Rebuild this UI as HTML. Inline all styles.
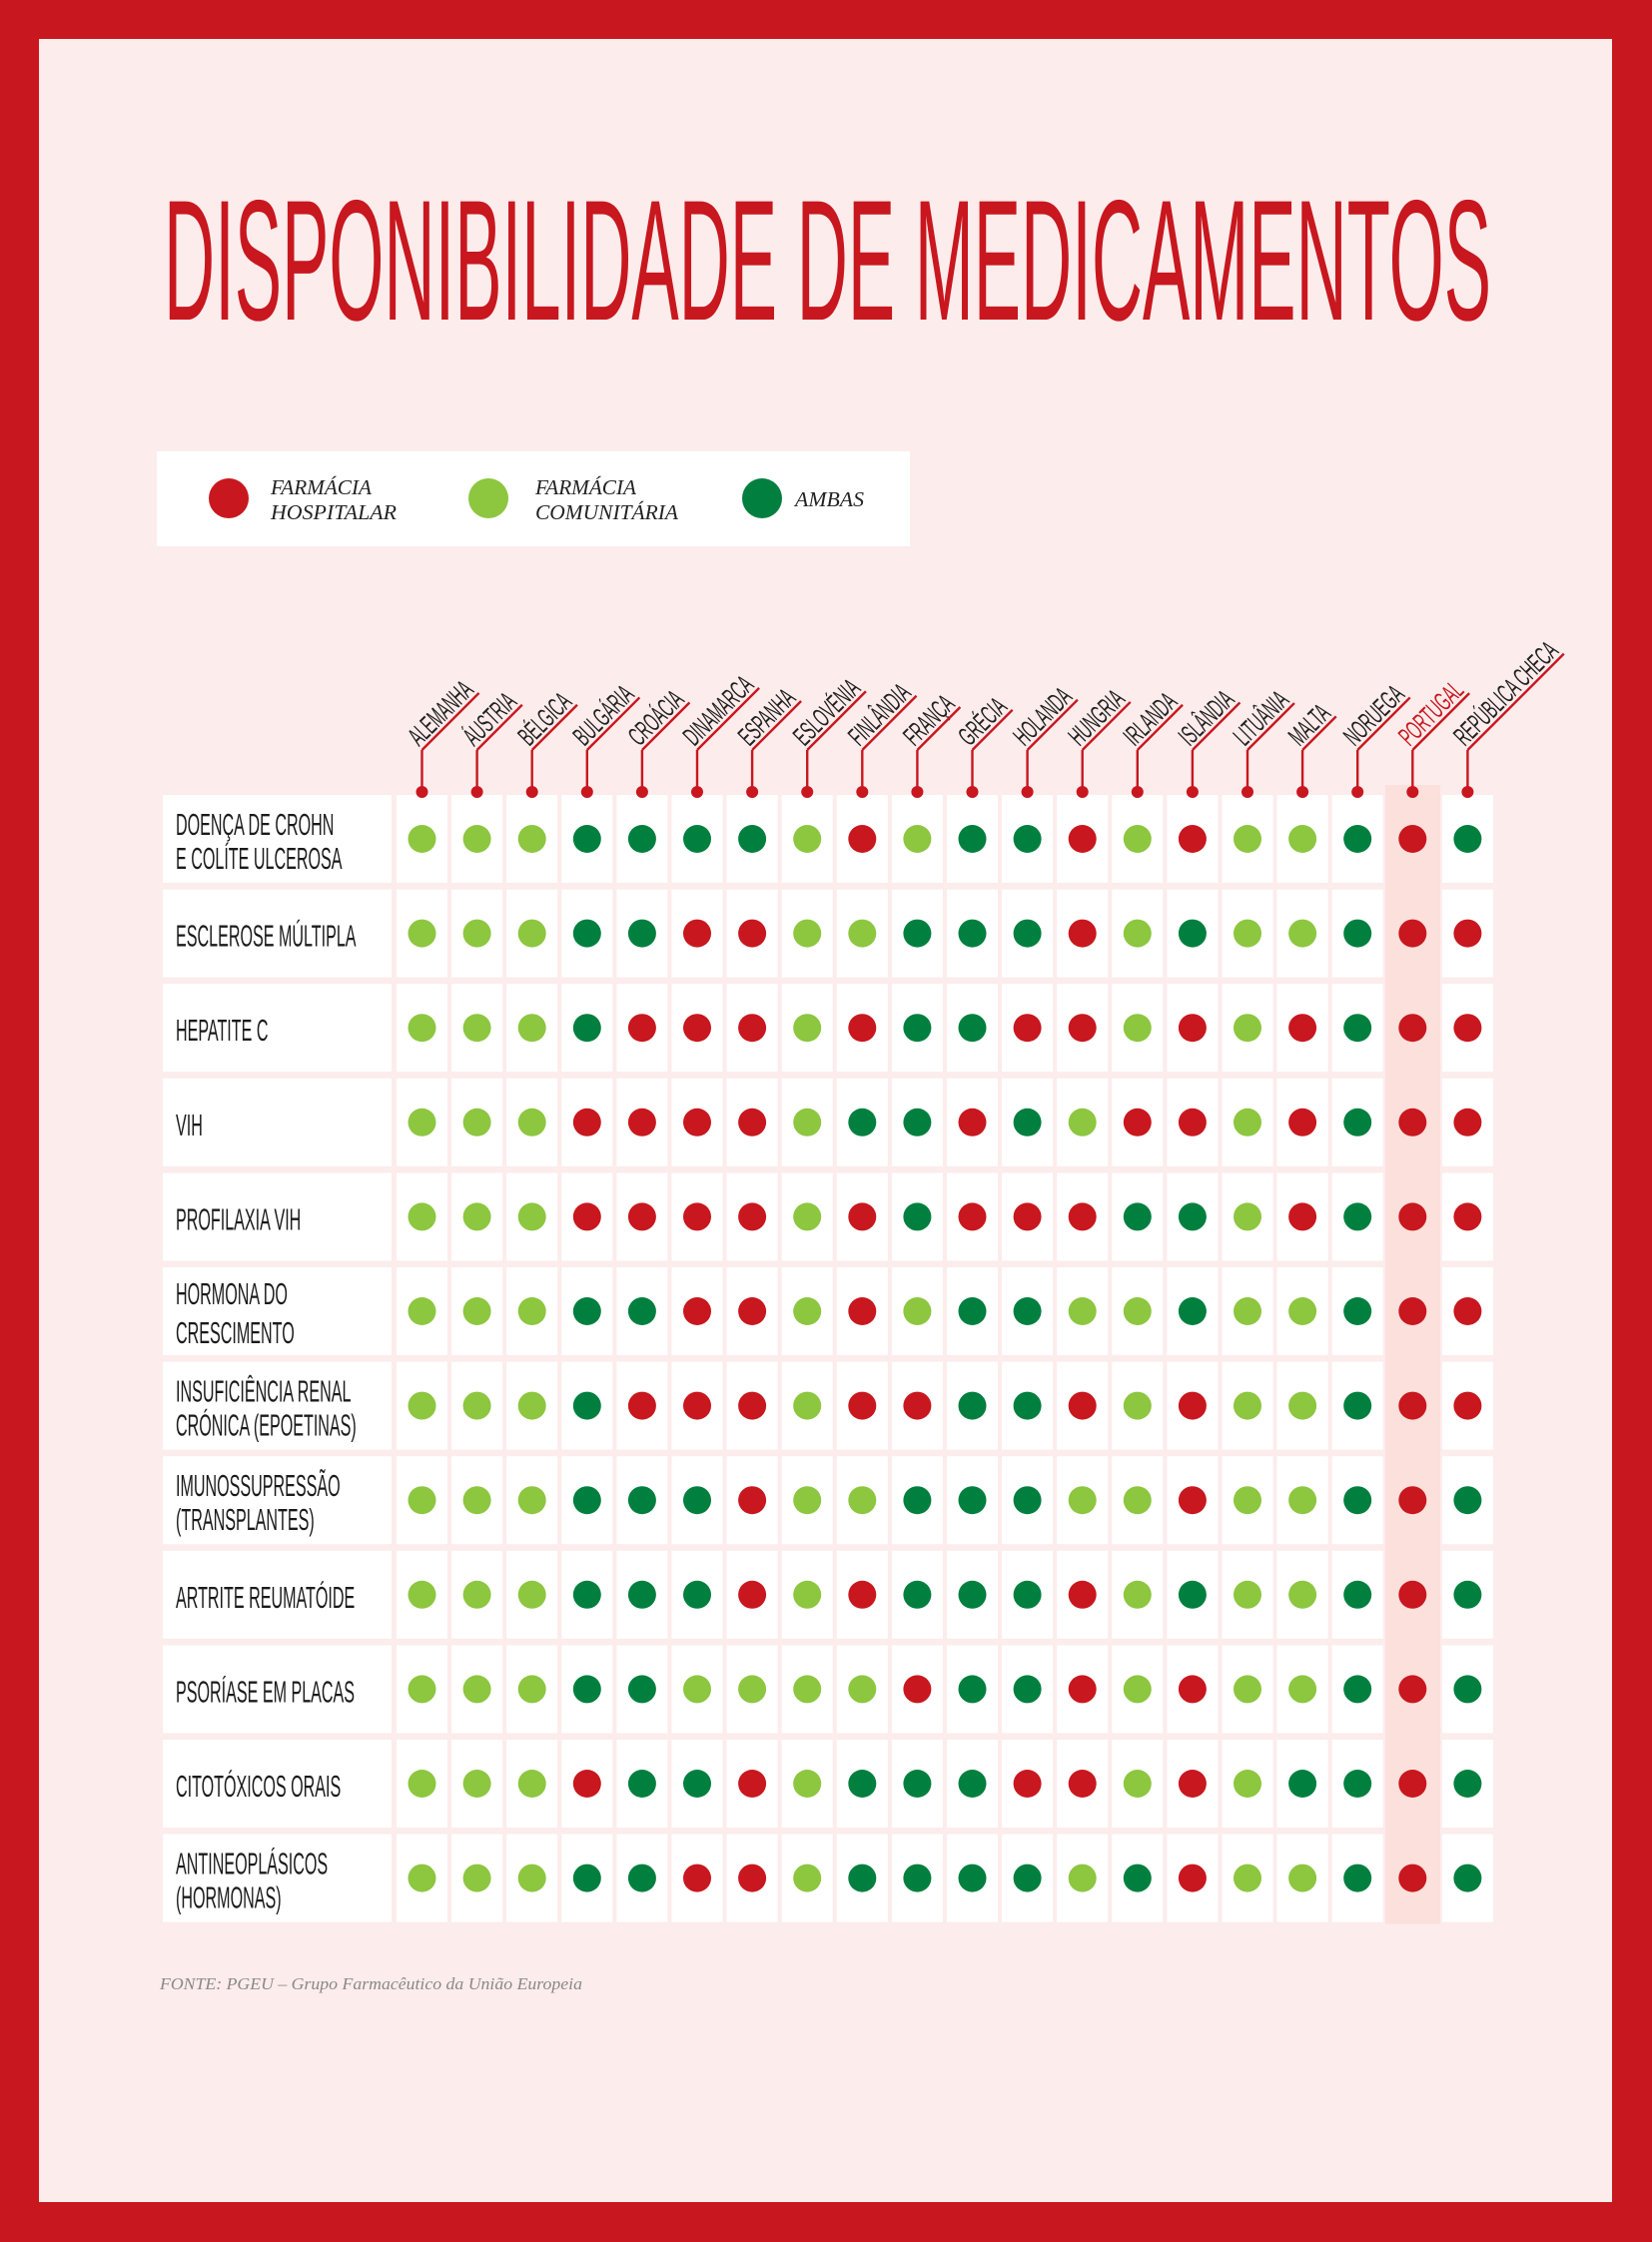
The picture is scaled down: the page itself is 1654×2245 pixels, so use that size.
<!DOCTYPE html>
<html><head><meta charset="utf-8">
<style>
html,body{margin:0;padding:0;background:#c8171e;}
svg{display:block;}
</style></head>
<body>
<svg id="s" xmlns="http://www.w3.org/2000/svg" width="1654" height="2245" viewBox="0 0 1654 2245">
<rect x="0" y="0" width="1654" height="2245" fill="#c8171e"/>
<rect x="39" y="39" width="1575" height="2166" fill="#fcecec"/>
<text x="164" y="320" font-family="Liberation Sans, sans-serif" font-size="172" fill="#c8171e" textLength="1329" lengthAdjust="spacingAndGlyphs">DISPONIBILIDADE DE MEDICAMENTOS</text>
<rect x="157" y="452" width="754" height="95" fill="#fff"/>
<circle cx="229" cy="499" r="20" fill="#c8171e"/>
<circle cx="489" cy="499" r="20" fill="#8dc63f"/>
<circle cx="763" cy="499" r="20" fill="#007f3f"/>
<g font-family="Liberation Serif, serif" font-style="italic" font-size="21" fill="#222">
<text x="271" y="495" textLength="101" lengthAdjust="spacingAndGlyphs">FARMÁCIA</text>
<text x="271" y="520" textLength="126" lengthAdjust="spacingAndGlyphs">HOSPITALAR</text>
<text x="536" y="495" textLength="101" lengthAdjust="spacingAndGlyphs">FARMÁCIA</text>
<text x="536" y="520" textLength="143" lengthAdjust="spacingAndGlyphs">COMUNITÁRIA</text>
<text x="796" y="507" textLength="69" lengthAdjust="spacingAndGlyphs">AMBAS</text>
</g>
<text x="160" y="1992" font-family="Liberation Serif, serif" font-style="italic" font-size="17" fill="#8a8888" textLength="423" lengthAdjust="spacingAndGlyphs">FONTE: PGEU – Grupo Farmacêutico da União Europeia</text>
<g id="grid"></g>
</svg>
<script>
(function(){
var NS="http://www.w3.org/2000/svg",svg=document.getElementById('grid');
function el(t,a,txt){var e=document.createElementNS(NS,t);for(var k in a)e.setAttribute(k,a[k]);if(txt!=null)e.textContent=txt;svg.appendChild(e);return e;}
var C={R:"#c8171e",L:"#8dc63f",D:"#007f3f"};
var countries=["ALEMANHA","ÁUSTRIA","BÉLGICA","BULGÁRIA","CROÁCIA","DINAMARCA","ESPANHA","ESLOVÉNIA","FINLÂNDIA","FRANÇA","GRÉCIA","HOLANDA","HUNGRIA","IRLANDA","ISLÂNDIA","LITUÂNIA","MALTA","NORUEGA","PORTUGAL","REPÚBLICA CHECA"];
var rows=[
[["DOENÇA DE CROHN","E COLÍTE ULCEROSA"],"LLLDDDDLRLDDRLRLLDRD"],
[["ESCLEROSE MÚLTIPLA"],"LLLDDRRLLDDDRLDLLDRR"],
[["HEPATITE C"],"LLLDRRRLRDDRRLRLRDRR"],
[["VIH"],"LLLRRRRLDDRDLRRLRDRR"],
[["PROFILAXIA VIH"],"LLLRRRRLRDRRRDDLRDRR"],
[["HORMONA DO","CRESCIMENTO"],"LLLDDRRLRLDDLLDLLDRR"],
[["INSUFICIÊNCIA RENAL","CRÓNICA (EPOETINAS)"],"LLLDRRRLRRDDRLRLLDRR"],
[["IMUNOSSUPRESSÃO","(TRANSPLANTES)"],"LLLDDDRLLDDDLLRLLDRD"],
[["ARTRITE REUMATÓIDE"],"LLLDDDRLRDDDRLDLLDRD"],
[["PSORÍASE EM PLACAS"],"LLLDDLLLLRDDRLRLLDRD"],
[["CITOTÓXICOS ORAIS"],"LLLRDDRLDDDRRLRLDDRD"],
[["ANTINEOPLÁSICOS","(HORMONAS)"],"LLLDDRRLDDDDLDRLLDRD"]];
var top0=796,pitch=94.6,ch=88,x0=397,cp=55.1,cw=51;
el('rect',{x:1387,y:786,width:55,height:top0+11*pitch+ch-786+2,fill:"#fbe0dc"});
var sx=0.52;
rows.forEach(function(r,i){
  var y=top0+i*pitch;
  el('rect',{x:163,y:y,width:229,height:ch,fill:"#fff"});
  var lines=r[0];
  var bl=lines.length==1?[y+57]:(i==5?[y+37,y+76]:[y+40,y+74]);
  lines.forEach(function(t,j){
    el('text',{x:(176/sx),y:bl[j],transform:"scale("+sx+",1)","font-family":"Liberation Sans, sans-serif","font-size":31,fill:"#1a1a1a"},t);
  });
  for(var c=0;c<20;c++){
    var cx=x0+c*cp;
    if(c!=18) el('rect',{x:cx,y:y,width:cw,height:ch,fill:"#fff"});
    el('circle',{cx:cx+cw/2,cy:y+44,r:14,fill:C[r[1][c]]});
  }
});
countries.forEach(function(n,c){
  var cx=x0+c*cp+cw/2, col=(c==18)?"#c8171e":"#222";
  el('line',{x1:cx,y1:793,x2:cx,y2:751,stroke:"#c8171e","stroke-width":2.4});
  el('circle',{cx:cx,cy:793,r:6,fill:"#c8171e"});
  var g=document.createElementNS(NS,'g');g.setAttribute('transform','translate('+cx+',751) rotate(-45)');svg.appendChild(g);
  var t=document.createElementNS(NS,'text');
  t.setAttribute('x',0);t.setAttribute('y',-4);
  t.setAttribute('font-family','Liberation Sans, sans-serif');t.setAttribute('font-size',27);t.setAttribute('fill',col);
  t.setAttribute('transform','scale(0.53,1)');
  t.textContent=n;g.appendChild(t);
  var L=n.length*10;
  try{var w=t.getComputedTextLength();if(w>0)L=w*0.53;}catch(e){}
  var ln=document.createElementNS(NS,'line');
  ln.setAttribute('x1',0);ln.setAttribute('y1',0);ln.setAttribute('x2',L+2);ln.setAttribute('y2',0);
  ln.setAttribute('stroke','#c8171e');ln.setAttribute('stroke-width',2.4);g.appendChild(ln);
});
})();
</script>
</body></html>
